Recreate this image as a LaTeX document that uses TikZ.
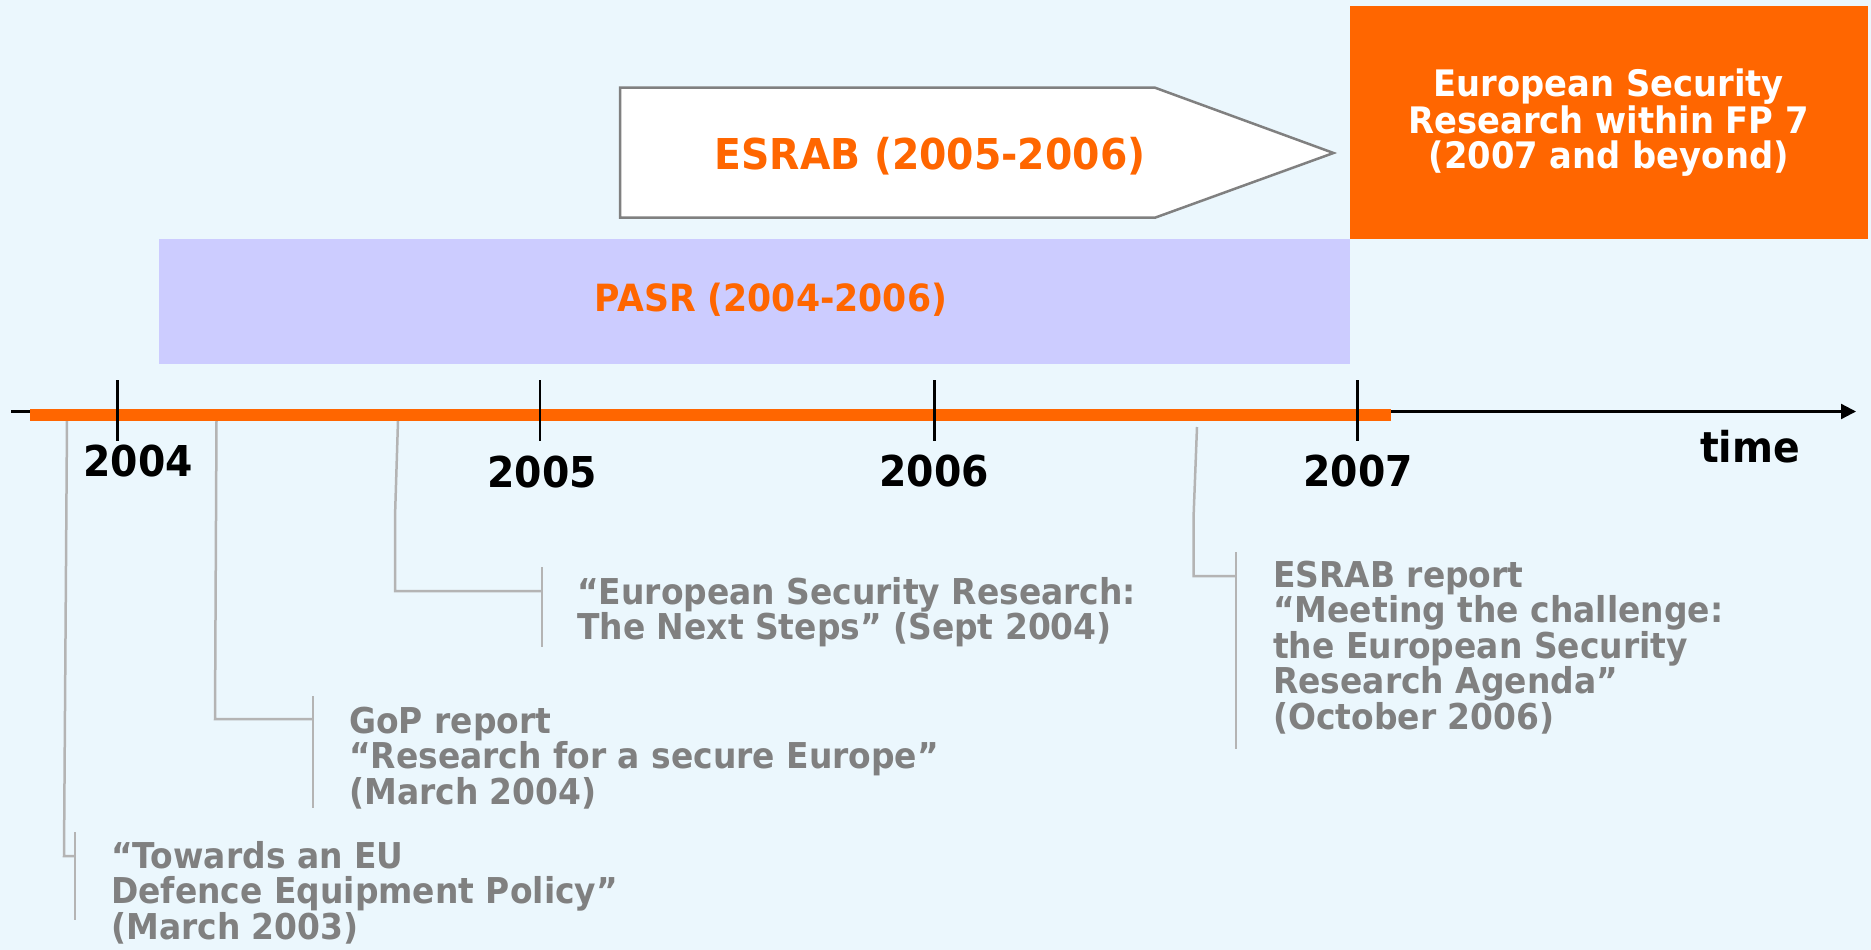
\documentclass[tikz,border=0pt]{standalone}
\usepackage{fontspec}
\setmainfont{DejaVu Sans}[FakeStretch=0.925]
\usetikzlibrary{arrows.meta}
\definecolor{bgblue}{HTML}{EBF7FD}
\definecolor{esorange}{HTML}{FF6600}
\definecolor{pasrblue}{HTML}{CCCCFF}
\definecolor{txtgray}{HTML}{808080}
\definecolor{linegray}{HTML}{B4B4B4}
\definecolor{edgegray}{HTML}{808080}
\tikzset{
  conn/.style={draw=linegray, line width=2.5pt},
  gtext/.style={text=txtgray, anchor=north west, inner sep=0pt, align=left,
    font={\fontsize{35.6}{35.5}\selectfont\bfseries}},
  yearlbl/.style={anchor=base, inner sep=0pt, text=black,
    font={\fontsize{42.5}{42.5}\selectfont\bfseries}},
  tickmark/.style={draw=black, line width=2.2pt},
}
\newcommand{\fstrut}{\rule{0pt}{30pt}}
\begin{document}
\begin{tikzpicture}[x=1pt,y=-1pt]
\useasboundingbox (0,0) rectangle (1871,950);
\fill[bgblue] (0,0) rectangle (1871,950);

% FP7 box
\node (fp7) [fill=esorange, anchor=north west, inner sep=0pt,
  minimum width=518pt, minimum height=233pt, text=white, align=center,
  font={\fontsize{36.5}{35}\selectfont\bfseries}] at (1349.5,6)
  {European Security\\Research within FP 7\\(2007 and beyond)};

% PASR box
\node (pasr) [fill=pasrblue, anchor=north west, inner sep=0pt,
  minimum width=1191pt, minimum height=125pt] at (159,239) {};
\node (pasrtxt) [anchor=base, inner sep=0pt, text=esorange,
  font={\fontsize{37.5}{37.5}\selectfont\bfseries}] at (771,311.5) {PASR (2004-2006)};

% ESRAB arrow
\coordinate (e1) at (620,87.7);
\coordinate (e2) at (1155,87.7);
\coordinate (etip) at (1333.5,153);
\coordinate (e3) at (1155,217.7);
\coordinate (e4) at (620,217.7);
\draw[draw=edgegray, fill=white, line width=2.5pt, line join=miter] (e1) -- (e2) -- (etip) -- (e3) -- (e4) -- cycle;
\node (esrab) [anchor=base, inner sep=0pt, text=esorange,
  font={\fontsize{42.5}{42.5}\selectfont\bfseries}] at (930,169) {ESRAB (2005-2006)};

% time axis
\coordinate (axstart) at (11,411.5);
\coordinate (axend) at (1856,411.5);
\draw[line width=2.2pt, -{Triangle[length=15pt,width=15pt]}] (axstart) -- (axend);
\coordinate (barL) at (30,415);
\coordinate (barR) at (1390.5,415);
\draw[esorange, line width=12pt] (barL) -- (barR);

% ticks
\foreach \tx/\nm in {117.4/a,540/b,934.5/c,1357.4/d}{
  \coordinate (tk\nm t) at (\tx,380);
  \coordinate (tk\nm b) at (\tx,441);
  \draw[tickmark] (tk\nm t) -- (tk\nm b);
}
\node (y2004) [yearlbl] at (138,476) {2004};
\node (y2005) [yearlbl] at (542,487) {2005};
\node (y2006) [yearlbl] at (934,486) {2006};
\node (y2007) [yearlbl] at (1358,486) {2007};
\node (time) [yearlbl] at (1750,462) {time};

% callout texts
\node (t1) [gtext] at (111,838) {\fstrut“Towards an EU\\Defence Equipment Policy”\\(March 2003)};
\node (t2) [gtext] at (349,703) {\fstrut GoP report\\“Research for a secure Europe”\\(March 2004)};
\node (t3) [gtext] at (577,574) {\fstrut“European Security Research:\\The Next Steps” (Sept 2004)};
\node (t4) [gtext] at (1273,557) {\fstrut ESRAB report\\“Meeting the challenge:\\the European Security\\Research Agenda”\\(October 2006)};

% callout 1
\coordinate (c1a) at (67,421);
\coordinate (c1b) at (64,856);
\coordinate (c1c) at (75,856);
\coordinate (b1t) at (75,832);
\coordinate (b1b) at (75,920);
\draw[conn] (c1a) -- (c1b) -- (c1c);
\draw[conn] (b1t) -- (b1b);

% callout 2
\coordinate (c2a) at (216.5,421);
\coordinate (c2b) at (215,719);
\coordinate (c2c) at (313,719);
\coordinate (b2t) at (313,696);
\coordinate (b2b) at (313,808);
\draw[conn] (c2a) -- (c2b) -- (c2c);
\draw[conn] (b2t) -- (b2b);

% callout 3
\coordinate (c3a) at (398,421);
\coordinate (c3m) at (395,517);
\coordinate (c3b) at (395,591);
\coordinate (c3c) at (542,591);
\coordinate (b3t) at (542,567);
\coordinate (b3b) at (542,647);
\draw[conn] (c3a) -- (c3m) -- (c3b) -- (c3c);
\draw[conn] (b3t) -- (b3b);

% callout 4
\coordinate (c4a) at (1197,427);
\coordinate (c4m) at (1193.7,513);
\coordinate (c4b) at (1193.7,576);
\coordinate (c4c) at (1236,576);
\coordinate (b4t) at (1236,552);
\coordinate (b4b) at (1236,749);
\draw[conn] (c4a) -- (c4m) -- (c4b) -- (c4c);
\draw[conn] (b4t) -- (b4b);
\end{tikzpicture}
\end{document}
